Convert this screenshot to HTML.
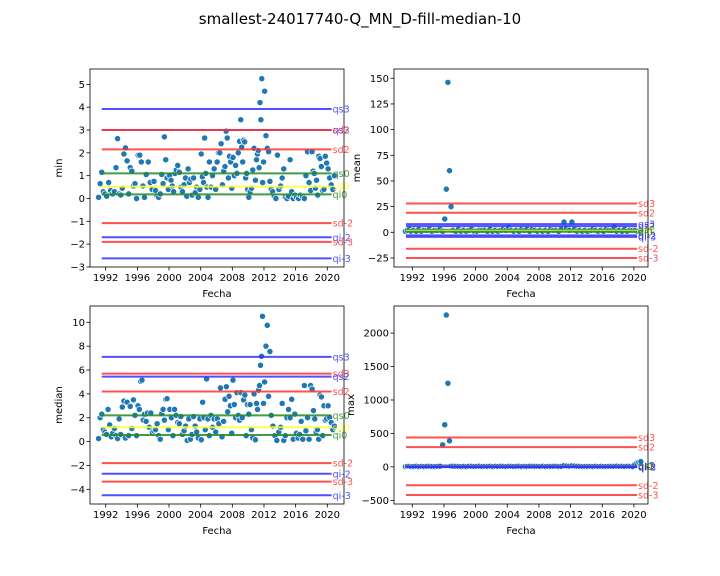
<!DOCTYPE html>
<html><head><meta charset="utf-8"><style>
body{margin:0;background:#fff}
svg{display:block;font-family:"DejaVu Sans","Liberation Sans",sans-serif}
</style></head><body>
<svg id="fig" width="720" height="576" viewBox="0 0 720 576">
<rect width="720" height="576" fill="#fff"/>
<text x="360" y="24" font-size="15" text-anchor="middle">smallest-24017740-Q_MN_D-fill-median-10</text>
</svg>
<script>
// ---- data ----
const years=[1991,1992,1993,1994,1995,1996,1997,1998,1999,2000,2001,2002,2003,2004,2005,2006,2007,2008,2009,2010,2011,2012,2013,2014,2015,2016,2017,2018,2019,2020];
const minValues=[[0.05,0.65,1.15,0.3,0.2],[0.1,0.7,0.35,0.2],[0.3,1.35,2.62,0.2,0.15],[0.45,1.95,2.22,1.65,0.2],[1.35,1.2,0.55,0.65,0.0],[1.9,1.9,1.6,0.55,0.05],[1.05,1.6,0.7,0.4],[0.75,0.35,0.1,0.05,0.2],[1.05,0.65,2.7,1.7,0.9,0.4],[1.0,0.8,0.55,0.3,1.1,1.25],[1.45,1.15,0.5,0.3,0.6],[0.9,0.1,1.3,0.7,0.85,0.15],[0.9,0.25,0.5,0.05,0.4],[1.95,0.95,0.7,2.65,1.1,0.5,0.05],[1.6,0.5,1.0,1.3,0.4],[1.6,2.0,2.0,2.4,0.6,1.2],[1.4,2.95,2.65,0.9,1.85,1.6,0.45],[1.8,1.0,1.45,1.1,2.0,2.5],[3.45,2.25,1.6,2.55,2.48,0.9,1.1,0.4],[0.05,0.3,0.45,1.25,2.2,0.8],[1.7,1.95,2.1,1.35,4.2,3.45,5.25,0.7,1.6],[4.7,2.75,2.2,2.05,0.75,0.4],[0.3,0.1,0.0,1.9,0.4],[0.55,0.9,1.3,0.05,0.0],[0.1,1.7,0.3,0.0,0.15],[0.05,0.0,0.15,0.1],[0.0,1.0,2.05,0.7,0.35],[2.05,1.2,1.1,0.45,0.8,0.15,1.85],[1.75,1.4,0.35,0.4,1.85,1.55],[1.3,0.9,0.6,0.4,1.0]];
const medianValues=[[0.25,2.0,2.3,1.0,0.8],[0.6,2.7,1.4,0.4,0.7],[1.1,0.5,0.25,1.9,0.6],[2.9,3.4,0.3,3.3,0.5],[2.95,1.1,3.5,2.2,0.5],[3.0,2.7,5.05,5.15,1.8,2.3],[1.7,2.4,1.2,2.4,0.8],[0.9,1.0,1.5,0.5,0.2],[2.35,2.7,1.8,3.55,3.6,1.0],[2.7,2.0,0.5,2.7,2.2],[1.6,1.5,2.1,0.6,0.9],[1.3,0.1,1.9,0.2,0.6],[2.1,1.3,0.8,0.3,1.9],[0.15,3.3,2.0,1.0,5.25,1.9],[0.5,2.2,1.2,1.9,0.8],[1.9,1.5,4.5,0.4,1.7],[3.55,4.6,2.5,3.8,3.0,0.7],[5.15,3.1,2.0,4.1,2.2,1.8],[4.1,2.0,3.5,3.9,0.5,3.1],[2.3,3.1,1.0,0.3,4.0,0.15],[3.2,2.7,4.3,4.7,6.4,7.15,10.5,3.2],[5.0,8.0,9.75,3.8,7.55,2.2],[1.3,0.5,0.1,0.8],[1.2,3.2,0.1,0.5,2.0],[2.7,2.0,3.55,0.2,2.3],[0.7,0.3,0.6,1.7,0.2],[4.7,0.9,2.0,0.2,4.7],[4.4,2.6,1.9,0.8,1.0,0.2],[3.9,3.75,0.5,3.0,1.8,1.9],[3.0,2.0,1.6,1.0,1.3]];
const meanValues=[[1,2,3,1],[2,1,3],[1,2,2],[3,1,2],[2,3,1],[13,42,146,60,25],[2,1,3],[1,2,1],[2,3,1],[1,2,2],[2,1,3],[1,2,1],[2,3,2],[5,2,1],[2,1,3],[2,3,1],[3,2,1],[2,1,2],[1,3,2],[2,1,3],[10,4,2],[10,3,1],[2,1,2],[1,2,3],[2,1,2],[1,3,2],[2,5,1],[2,1,3],[1,2,2],[2,1,1]];
const maxValues=[[5,10,8,3],[6,9,4],[7,5,8],[9,6,5],[8,10,330],[630,2270,1250,390,12],[9,7,6],[5,8,4],[10,7,6],[8,9,5],[7,6,10],[5,8,6],[9,7,5],[10,8,6],[7,9,5],[8,6,10],[9,7,8],[6,10,5],[8,7,9],[10,6,7],[20,15,12],[18,14,9],[7,5,6],[6,8,5],[9,5,7],[5,6,8],[8,7,12],[7,9,6],[10,8,5],[40,60,70,80]];
// reference lines
const minLineLabels=["qs3","qs2","sd3","sd2","qs0","sd0","qi0","sd-2","qi-2","sd-3","qi-3"];
const minLineValues=[3.92,3.0,3.0,2.15,1.1,0.52,0.18,-1.08,-1.7,-1.9,-2.62];
const meanLineLabels=["sd3","sd2","qs3","qs2","qs0","sd0","qi0","qi-2","qi-3","sd-2","sd-3"];
const meanLineValues=[28,19,8,6,2.5,1.5,0.5,-3,-4.5,-16,-25];
const medianLineLabels=["qs3","sd3","qs2","sd2","qs0","sd0","qi0","sd-2","qi-2","sd-3","qi-3"];
const medianLineValues=[7.1,5.7,5.45,4.2,2.2,1.2,0.55,-1.8,-2.7,-3.35,-4.5];
const maxLineLabels=["sd3","sd2","qs3","qs2","qs0","sd0","qi0","qi-2","qi-3","sd-2","sd-3"];
const maxLineValues=[440,295,20,12,8,6,3,0,-3,-275,-420];
const xTicks=[1992,1996,2000,2004,2008,2012,2016,2020];
const minTicks=[-3,-2,-1,0,1,2,3,4,5];
const meanTicks=[-25,0,25,50,75,100,125,150];
const medianTicks=[-4,-2,0,2,4,6,8,10];
const maxTicks=[-500,0,500,1000,1500,2000];

const NS="http://www.w3.org/2000/svg";
const fig=document.getElementById('fig');
function mk(tag,attrs,parent){const e=document.createElementNS(NS,tag);for(const k in attrs)e.setAttribute(k,attrs[k]);(parent||fig).appendChild(e);return e;}
function colorOf(l){if(l==='qs0'||l==='qi0')return '#228b22';if(l==='sd0')return '#ffff33';if(l.startsWith('sd'))return '#ff3333';return '#3333ff';}
function fmt(v){return v<0?'\u2212'+Math.abs(v):String(v);}

function panel(cfg){
  const g=mk('g',{});
  
  
  const L=cfg.left,R=cfg.left+254,T=cfg.top,B=cfg.top+198;
  const xs=y=>cfg.x0+(y-1992)*7.914;
  const ys=v=>cfg.y0-v*cfg.k;
  const pts=mk('g',{},g);
  
  
  cfg.values.forEach((arr,i)=>{arr.forEach((v,j)=>{
    const c=mk('circle',{cx:xs(years[i]+(j+0.5)/arr.length),cy:ys(v),r:3.1,fill:'#1f77b4',stroke:'#fff','stroke-width':0.7},pts);
    
    
  });});
  const xa=xs(cfg.lineStart),xb=xs(cfg.lineEnd);
  cfg.lineValues.forEach((v,i)=>{
    const lab=cfg.lineLabels[i],col=colorOf(lab);
    const ln=mk('line',{x1:xa,x2:xb,y1:ys(v),y2:ys(v),stroke:col,'stroke-width':2,'stroke-opacity':0.85},g);
    
    
    const t=mk('text',{x:xb+1,y:ys(v)+3.5,fill:col,'fill-opacity':0.85,'font-size':9.5},g);
    t.textContent=lab;
    
    
  });
  const fr=mk('rect',{x:L,y:T,width:254,height:198,fill:'none',stroke:'#000','stroke-width':0.8},g);
  
  
  xTicks.forEach(t=>{const x=xs(t);mk('line',{x1:x,x2:x,y1:B,y2:B+3.5,stroke:'#000','stroke-width':0.8},g);
    const tx=mk('text',{x:x,y:B+14,'font-size':10,'text-anchor':'middle'},g);tx.textContent=t;
    });
  cfg.ticks.forEach(t=>{const y=ys(t);mk('line',{x1:L-3.5,x2:L,y1:y,y2:y,stroke:'#000','stroke-width':0.8},g);
    const tx=mk('text',{x:L-5,y:y+3.5,'font-size':10,'text-anchor':'end'},g);tx.textContent=fmt(t);
    });
  const xl=mk('text',{x:L+127,y:B+30,'font-size':10,'text-anchor':'middle'},g);xl.textContent='Fecha';
  
  const yl=mk('text',{x:cfg.ylx,y:(T+B)/2,'font-size':10,'text-anchor':'middle',transform:`rotate(-90 ${cfg.ylx} ${(T+B)/2})`},g);yl.textContent=cfg.ylabel;
  
}
panel({name:'min-panel',left:90,top:69,x0:105.7,y0:198.5,k:22.83,values:minValues,lineLabels:minLineLabels,lineValues:minLineValues,ticks:minTicks,ylabel:'min',ylx:62,lineStart:1991.5,lineEnd:2020.55});
panel({name:'mean-panel',left:394,top:69,x0:412.3,y0:232.3,k:1.027,values:meanValues,lineLabels:meanLineLabels,lineValues:meanLineValues,ticks:meanTicks,ylabel:'mean',ylx:360,lineStart:1991.2,lineEnd:2020.4});
panel({name:'median-panel',left:90,top:306,x0:105.7,y0:441.6,k:11.93,values:medianValues,lineLabels:medianLineLabels,lineValues:medianLineValues,ticks:medianTicks,ylabel:'median',ylx:62,lineStart:1991.5,lineEnd:2020.55});
panel({name:'max-panel',left:394,top:306,x0:412.3,y0:466.9,k:0.0669,values:maxValues,lineLabels:maxLineLabels,lineValues:maxLineValues,ticks:maxTicks,ylabel:'max',ylx:354,lineStart:1991.2,lineEnd:2020.4});
</script>
</body></html>
